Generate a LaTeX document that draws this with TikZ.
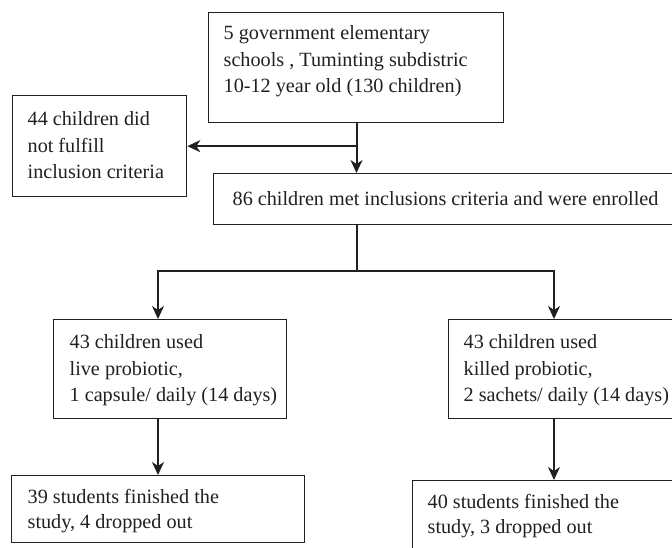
\documentclass[tikz,border=0pt]{standalone}
\usepackage{fontspec}
\setmainfont{Liberation Serif}
\usetikzlibrary{arrows.meta,calc}
\definecolor{ink}{HTML}{231F20}
\newcommand\fsz{\fontsize{20.2}{26.5}\selectfont}
\newcommand\padtext[3]{\hspace*{#1}\parbox[t]{#2}{\raggedright #3}}
\begin{document}
\begin{tikzpicture}[x=1pt,y=-1pt,
  flowbox/.style={draw=ink, line width=1.3pt, inner xsep=0pt, inner ysep=0pt, anchor=north west,
    font=\fsz, text=ink},
  flowarrow/.style={draw=ink, line width=2pt, -{Stealth[length=13pt,width=12pt,inset=4pt]}},
  flowline/.style={draw=ink, line width=2pt}]
\useasboundingbox (0,0) rectangle (672,547);
% boxes
\node[flowbox, text height=27pt, text depth=83pt] (top) at (208,12)
  {\padtext{15pt}{280pt}{5 government elementary\\schools , Tuminting subdistric\\10-12 year old (130 children)}};
\node[flowbox, text height=30pt, text depth=71pt] (excl) at (12,95)
  {\padtext{15pt}{159pt}{44 children did\\not fulfill\\inclusion criteria}};
\node[flowbox, text height=32pt, text depth=19pt] (enrol) at (213,173)
  {\padtext{19pt}{481pt}{86 children met inclusions criteria and were enrolled}};
\node[flowbox, text height=29pt, text depth=70pt] (live) at (53,319)
  {\padtext{16pt}{217pt}{43 children used\\live probiotic,\\1 capsule/ daily (14 days)}};
\node[flowbox, text height=29pt, text depth=70pt] (killed) at (448,319)
  {\padtext{15pt}{255pt}{43 children used\\killed probiotic,\\2 sachets/ daily (14 days)}};
\node[flowbox, text height=28pt, text depth=39pt, font=\fontsize{20.2}{25}\selectfont] (fin1) at (11,475)
  {\padtext{16pt}{277pt}{39 students finished the\\study, 4 dropped out}};
\node[flowbox, text height=28pt, text depth=60pt, font=\fontsize{20.2}{25}\selectfont] (fin2) at (412,480)
  {\padtext{15pt}{285pt}{40 students finished the\\study, 3 dropped out}};
% connectors
\coordinate (tdown) at ($(top.south west)+(148.5,0)$);
\draw[flowarrow] (tdown) -- (tdown |- enrol.north);
\coordinate (branch) at (tdown |- excl.east);
\draw[flowarrow] (branch) -- (excl.east);
\coordinate (edown) at ($(enrol.south west)+(143.5,0)$);
\coordinate (split) at ($(edown)+(0,46)$);
\coordinate (lin) at ($(live.north west)+(105,0)$);
\coordinate (kin) at ($(killed.north west)+(106,0)$);
\draw[flowline] (edown) -- (split);
\draw[flowarrow] (split) -| (lin);
\draw[flowarrow] (split) -| (kin);
\draw[flowarrow] (lin |- live.south) -- (lin |- fin1.north);
\draw[flowarrow, line width=1.3pt] (kin |- killed.south) -- (kin |- fin2.north);
\end{tikzpicture}
\end{document}
